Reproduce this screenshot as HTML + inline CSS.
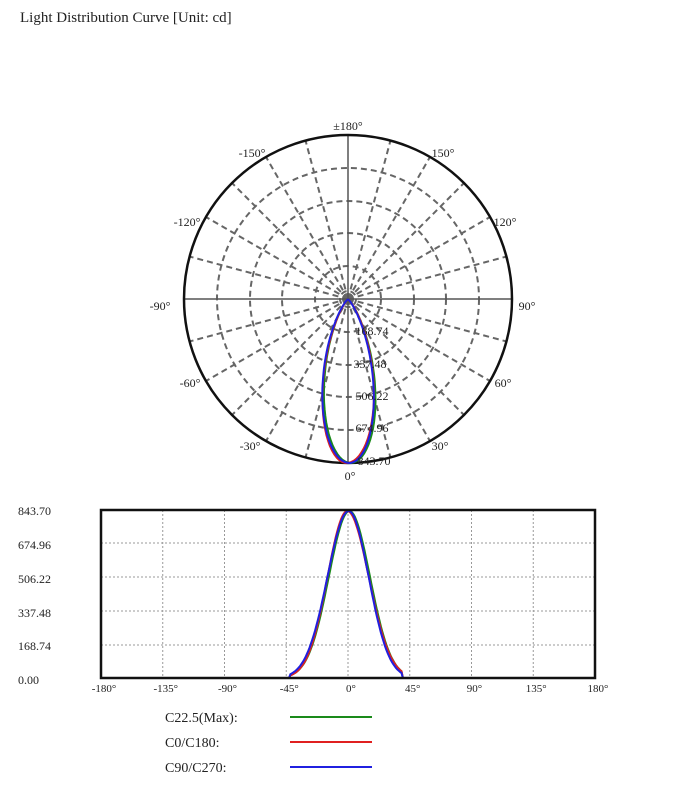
<!DOCTYPE html>
<html><head><meta charset="utf-8"><style>
body{margin:0;background:#fff;width:678px;height:800px;overflow:hidden}
svg{position:absolute;left:0;top:0}
text{font-family:"Liberation Serif",serif;fill:#222}
</style></head><body>
<svg id="s" width="678" height="800" viewBox="0 0 678 800">
<text x="20" y="22" font-size="15">Light Distribution Curve [Unit: cd]</text>
<g id="polar"></g>
<g id="lin"></g>
<g font-size="12">
<text x="348" y="130" text-anchor="middle">±180°</text>
<text x="252" y="157" text-anchor="middle">-150°</text>
<text x="443" y="157" text-anchor="middle">150°</text>
<text x="187" y="226" text-anchor="middle">-120°</text>
<text x="505" y="226" text-anchor="middle">120°</text>
<text x="160" y="310" text-anchor="middle">-90°</text>
<text x="527" y="310" text-anchor="middle">90°</text>
<text x="190" y="387" text-anchor="middle">-60°</text>
<text x="503" y="387" text-anchor="middle">60°</text>
<text x="250" y="450" text-anchor="middle">-30°</text>
<text x="440" y="450" text-anchor="middle">30°</text>
<text x="350" y="480" text-anchor="middle">0°</text>
<text x="372" y="335" text-anchor="middle">168.74</text>
<text x="370" y="368" text-anchor="middle">337.48</text>
<text x="372" y="400" text-anchor="middle">506.22</text>
<text x="372" y="432" text-anchor="middle">674.96</text>
<text x="374" y="465" text-anchor="middle">843.70</text>
</g>
<g font-size="12">
<text x="18" y="515">843.70</text>
<text x="18" y="549">674.96</text>
<text x="18" y="583">506.22</text>
<text x="18" y="617">337.48</text>
<text x="18" y="650">168.74</text>
<text x="18" y="684">0.00</text>
</g>
<g font-size="11" text-anchor="middle" id="xt"></g>
<g font-size="14">
<text x="165" y="722">C22.5(Max):</text>
<text x="165" y="747">C0/C180:</text>
<text x="165" y="772">C90/C270:</text>
</g>
<line x1="290" y1="717" x2="372" y2="717" stroke="#1a8a1a" stroke-width="2"/>
<line x1="290" y1="742" x2="372" y2="742" stroke="#e02020" stroke-width="2"/>
<line x1="290" y1="767" x2="372" y2="767" stroke="#2020e0" stroke-width="2"/>
</svg>
<script>
var NS="http://www.w3.org/2000/svg";
function el(p,t,a){var e=document.createElementNS(NS,t);for(var k in a)e.setAttribute(k,a[k]);p.appendChild(e);return e;}
var P=document.getElementById('polar'),L=document.getElementById('lin'),XT=document.getElementById('xt');
var cx=348,cy=299,R=164;
var ds={stroke:"#666","stroke-width":2,"stroke-dasharray":"6,4",fill:"none"};
[33,66,98,131,8].forEach(function(r){el(P,'circle',Object.assign({cx:cx,cy:cy,r:r},ds));});
for(var a=0;a<360;a+=15){ if(a%90==0)continue;var t=a*Math.PI/180;
 el(P,'line',Object.assign({x1:cx,y1:cy,x2:cx+R*Math.sin(t),y2:cy+R*Math.cos(t)},ds));}
el(P,'line',{x1:cx-R,y1:cy,x2:cx+R,y2:cy,stroke:"#555","stroke-width":1.5});
el(P,'line',{x1:cx,y1:cy-R,x2:cx,y2:cy+R,stroke:"#555","stroke-width":1.5});
el(P,'circle',{cx:cx,cy:cy,r:R,fill:"none",stroke:"#111","stroke-width":2.5});
function I(th,s,sh,sk){var d=th-sh;var sg=d<0?s*(1-sk):s*(1+sk);var v=Math.exp(-d*d/(2*sg*sg));if(th<-42||th>39)v=0;return v;}
var series=[["#1a8a1a",15,1,0.0],["#e02020",15,-0.5,0.04],["#2020e0",15,0.5,-0.03]];
series.forEach(function(s){var d="";for(var th=-60;th<=60;th+=1){var v=I(th,s[1],s[2],s[3]);var r=v*R,t=th*Math.PI/180;
 d+=(d?"L":"M")+(cx+r*Math.sin(t)).toFixed(1)+","+(cy+r*Math.cos(t)).toFixed(1);}
 el(P,'path',{d:d,fill:"none",stroke:s[0],"stroke-width":2});});
var x0=101,x1=595,yt=510,yb=678;
function X(d){return x0+(d+180)/360*(x1-x0);}
function Y(v){return yb-v*(yb-511);}
var gs={stroke:"#999","stroke-width":1,"stroke-dasharray":"2,2"};
[543,577,611,645].forEach(function(y){el(L,'line',Object.assign({x1:x0,y1:y,x2:x1,y2:y},gs));});
[-135,-90,-45,0,45,90,135].forEach(function(d){el(L,'line',Object.assign({x1:X(d),y1:yt,x2:X(d),y2:yb},gs));});
[-180,-135,-90,-45,0,45,90,135,180].forEach(function(d){var t=el(XT,'text',{x:X(d)+3,y:692});t.textContent=d+"°";});
series.forEach(function(s){var d="";for(var th=-90;th<=90;th+=1){var v=I(th,s[1],s[2],s[3]);
 d+=(d?"L":"M")+X(th).toFixed(1)+","+Y(v).toFixed(1);}
 el(L,'path',{d:d,fill:"none",stroke:s[0],"stroke-width":2});});
el(L,'rect',{x:x0,y:yt,width:x1-x0,height:yb-yt,fill:"none",stroke:"#111","stroke-width":2.5});
</script>
</body></html>
